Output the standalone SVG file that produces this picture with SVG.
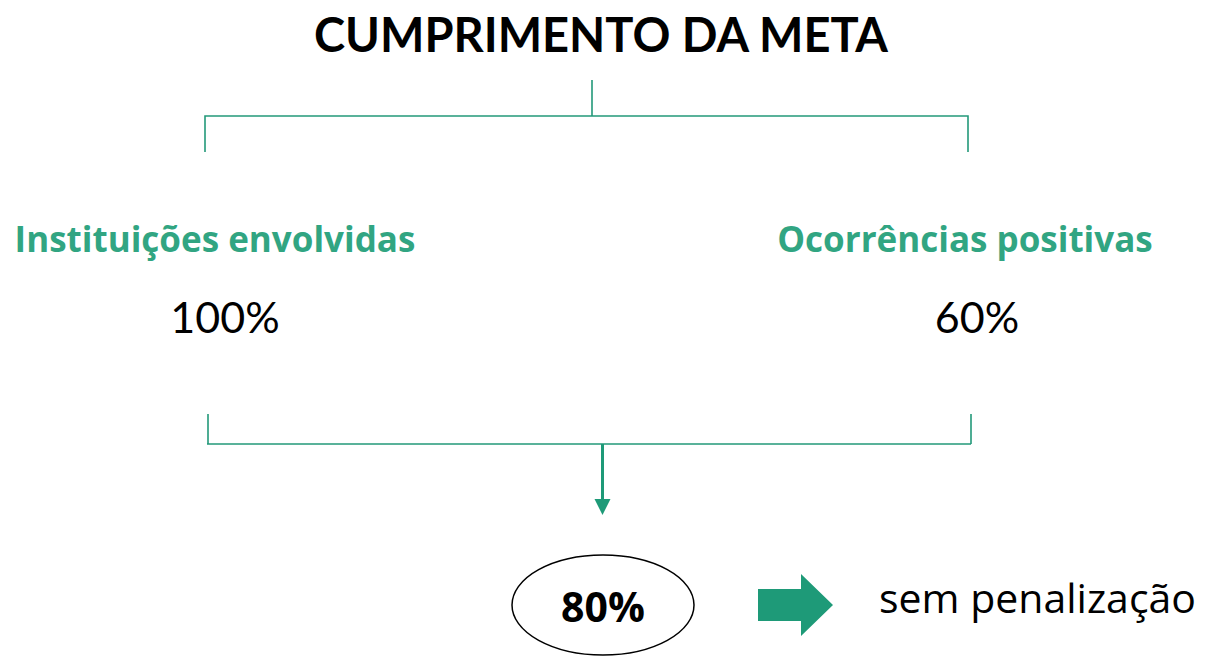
<svg xmlns="http://www.w3.org/2000/svg" width="1206" height="657" viewBox="0 0 1206 657">
<defs>
<style>
.t{font-family:Lato,"Open Sans","Liberation Sans",sans-serif;}
.o{font-family:"Open Sans","Liberation Sans",sans-serif;}
.title{font-weight:bold;font-size:47px;fill:#000;}
.lbl{font-weight:bold;font-size:35px;fill:#31A582;}
.val{font-size:43px;fill:#000;}
.ln{stroke:#23997A;stroke-width:1.6;fill:none;}
</style>
</defs>
<rect width="1206" height="657" fill="#fff"/>
<g id="title"><text class="t title" x="601" y="52" text-anchor="middle">CUMPRIMENTO DA META</text></g>
<g id="connectors">
<path class="ln" d="M592,80 V116 M205,152 V116 H968 V152"/>
<path class="ln" d="M208,414 V444 M971,414 V444 M207,444 H971"/>
<line x1="602.5" y1="444" x2="602.5" y2="500" stroke="#1E9A78" stroke-width="3"/>
<path d="M594.5,499 L610.5,499 L602.5,515 Z" fill="#1E9A78"/>
</g>
<g id="inst"><text class="o lbl" x="215" y="252" text-anchor="middle">Instituições envolvidas</text><text class="t val" x="225" y="333" text-anchor="middle">100%</text></g>
<g id="ocor"><text class="o lbl" x="965" y="252" text-anchor="middle">Ocorrências positivas</text><text class="t val" x="977" y="333" text-anchor="middle">60%</text></g>
<g id="result"><ellipse cx="603" cy="605" rx="91" ry="50" fill="#fff" stroke="#000" stroke-width="1.5"/><text class="o" x="603" y="622" text-anchor="middle" font-weight="bold" font-size="41">80%</text></g>
<g id="arrow"><path d="M758,589 H801 V574 L833,605 L801,636 V621 H758 Z" fill="#1E9A78"/></g>
<g id="outcome"><text class="o" x="879" y="613" font-size="41" fill="#000">sem penalização</text></g>
</svg>
